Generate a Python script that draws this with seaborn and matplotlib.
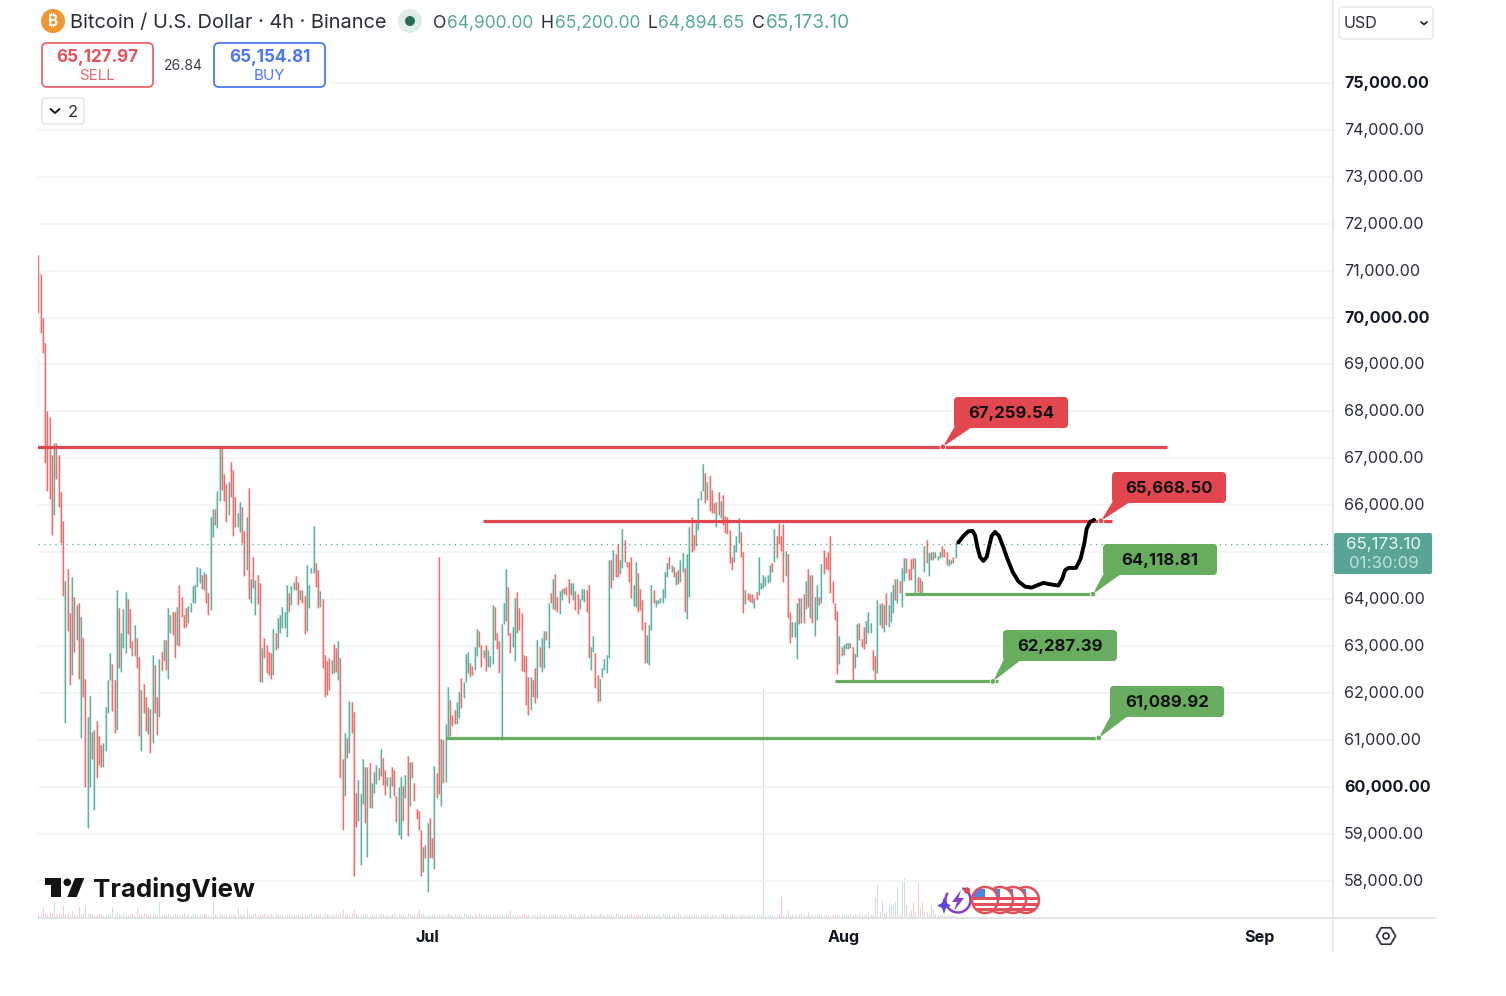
# BTC/USD 4h TradingView screenshot, candles + drawn levels
import numpy as np
import pandas as pd
import matplotlib
matplotlib.use("Agg")
import matplotlib.pyplot as plt
import matplotlib.transforms as mtrans
import seaborn as sns
from matplotlib.patches import Circle, FancyBboxPatch, Polygon, Rectangle, Arc

highs = [
    71326, 70921, 69984, 69452, 68003, 67876, 67066, 67322, 67322, 67066,
    66278, 65660, 64382, 64638, 63701, 64467, 64041, 63871, 63914, 63615,
    63168, 62295, 61485, 61933, 61166, 61209, 61400, 61081, 60889, 60932,
    61698, 62274, 62849, 62614, 62274, 64191, 63807, 63275, 63786, 64148,
    63999, 63786, 63104, 63445, 63168, 62763, 62061, 62188, 61911, 61698,
    61656, 62806, 62593, 61911, 62721, 62870, 63126, 63126, 63807, 63658,
    63722, 63722, 63828, 64297, 64041, 63658, 63807, 63850, 63914, 64276,
    64297, 64680, 64659, 64510, 64574, 64531, 64127, 65746, 65916, 65916,
    66299, 67237, 67258, 66661, 66448, 66491, 66917, 66747, 66172, 65831,
    66065, 65959, 65447, 65746, 66363, 64425, 64893, 64404, 64510, 64340,
    62955, 63168, 63019, 62870, 62849, 63360, 63275, 63594, 63658, 63828,
    63722, 64297, 64127, 64276, 64361, 64489, 64361, 64191, 64191, 64063,
    64723, 64297, 64659, 65554, 64766, 64617, 64169, 63999, 62806, 62678,
    62742, 62700, 63040, 62955, 63104, 62742, 60591, 61145, 61038, 61826,
    61805, 61592, 59867, 60144, 59845, 60591, 60420, 60420, 60506, 60080,
    60314, 60463, 60399, 60804, 60612, 60357, 60207, 60207, 60420, 60357,
    59803, 59994, 60207, 60016, 60250, 60655, 60527, 60527, 60080, 59526,
    59483, 59079, 58716, 58759, 59228, 59334, 58908, 60442, 60293, 64893,
    61017, 60996, 61336, 62124, 61848, 61528, 61635, 61805, 62018, 62316,
    62231, 62827, 62870, 62636, 62572, 62976, 63360, 63317, 63019, 62913,
    63019, 62913, 62785, 63871, 63828, 63275, 63104, 63466, 63914, 64638,
    64254, 63275, 63402, 64020, 64148, 63807, 63701, 62806, 62785, 62338,
    62338, 62274, 62529, 63126, 62976, 63168, 63317, 63317, 63914, 64127,
    64425, 64531, 64041, 64169, 64212, 64233, 64254, 64425, 64340, 64340,
    64169, 64105, 63999, 64212, 64212, 64191, 64297, 62976, 63211, 62849,
    62380, 62295, 62529, 62721, 62806, 64830, 64830, 65043, 64957, 65170,
    64830, 65490, 65256, 64787, 64787, 64893, 64297, 64787, 64553, 64212,
    63978, 63509, 63232, 63445, 64297, 64191, 63978, 63978, 64020, 64212,
    64574, 64766, 64893, 64723, 64680, 64574, 64617, 64830, 64979, 64659,
    64957, 65533, 65746, 65362, 65618, 66150, 66299, 66874, 66683, 66491,
    66619, 66321, 66044, 66065, 66278, 66086, 66214, 65767, 65746, 65469,
    64893, 65149, 65341, 65724, 65426, 65000, 64191, 64127, 64105, 64105,
    64020, 64148, 64893, 64340, 64510, 64467, 64510, 64723, 64766, 65490,
    65341, 65618, 65341, 65596, 65021, 64957, 63722, 63509, 63509, 63914,
    64020, 64020, 64105, 64382, 64638, 64510, 64510, 64041, 64297, 64041,
    64744, 65043, 64893, 65000, 65341, 64382, 63914, 63743, 63211, 62976,
    63019, 63062, 63062, 63062, 62976, 62827, 63466, 63488, 63147, 63402,
    63530, 63722, 63488, 62913, 62785, 63978, 63892, 63914, 63871, 64127,
    63871, 64148, 64297, 64425, 64425, 64382, 64659, 64872, 64872, 64638,
    64851, 64872, 64872, 64467, 64446, 64382, 65128, 65256, 64979, 65000,
    65000, 65000, 64915, 65000, 65128, 65064, 65000, 64850, 64830, 64893,
    65192,
]
lows = [
    70091, 69665, 69239, 66896, 66299, 66129, 65362, 65788, 66555, 65959,
    65192, 64063, 61358, 63317, 62167, 62380, 62870, 63126, 62295, 61038,
    61911, 59994, 59121, 59994, 60591, 59505, 60186, 60463, 60420, 60420,
    60761, 61571, 62274, 61613, 61145, 61209, 62529, 62444, 62955, 62849,
    63253, 62955, 62785, 62785, 62529, 61081, 60761, 61571, 61187, 61123,
    60719, 60932, 61571, 61102, 61485, 62465, 62678, 62487, 62295, 63275,
    63232, 62742, 63019, 62998, 63615, 63381, 63402, 63488, 63722, 63914,
    63914, 64254, 64340, 64212, 64191, 63914, 63658, 63765, 65320, 65575,
    65511, 66086, 66321, 66086, 65639, 65788, 66172, 65341, 65533, 65533,
    65426, 65192, 64489, 64617, 63999, 63914, 64233, 63658, 63892, 62231,
    62231, 62742, 62423, 62380, 62295, 62380, 62913, 62955, 63275, 63381,
    63381, 63189, 63722, 63871, 64191, 64191, 63871, 63978, 63914, 63253,
    63317, 63807, 64553, 64553, 64254, 63807, 63828, 62529, 61911, 61954,
    62061, 62401, 62423, 62444, 62274, 60186, 59079, 59803, 60612, 60719,
    61145, 58099, 59142, 59270, 58333, 59632, 59228, 58503, 59547, 59547,
    59867, 60058, 60144, 60229, 60037, 59824, 60016, 59760, 60016, 59803,
    59249, 58972, 58887, 59270, 59760, 58951, 59590, 60186, 59696, 59313,
    59079, 58099, 58184, 58482, 57758, 58482, 58482, 58248, 59760, 59845,
    59590, 60080, 60101, 61059, 61081, 61294, 61336, 61336, 61464, 61677,
    61890, 62231, 62423, 62338, 62380, 62487, 62785, 62976, 62550, 62742,
    62465, 62550, 62550, 62614, 63126, 62934, 62423, 61038, 63466, 63530,
    63232, 62849, 62976, 62678, 63275, 63339, 62465, 62444, 61741, 61528,
    61635, 61911, 61784, 61890, 62550, 62444, 62529, 63126, 62955, 63914,
    63786, 63765, 63722, 63679, 63978, 64105, 64084, 63914, 64084, 63978,
    63765, 63679, 63786, 63978, 63935, 63722, 62742, 62487, 62870, 62103,
    61805, 61826, 62338, 62487, 62423, 62742, 64233, 64404, 64467, 64467,
    64531, 64659, 64787, 64680, 64361, 64020, 63850, 63828, 63722, 63765,
    63339, 62636, 62636, 62593, 63339, 63914, 63828, 63892, 63914, 63914,
    64020, 64467, 64638, 64574, 64467, 64297, 64318, 64361, 64574, 63722,
    63573, 64041, 65000, 65043, 65128, 65469, 66108, 66299, 66044, 66108,
    65873, 65831, 65831, 65533, 65788, 65724, 65575, 65405, 65383, 64766,
    64617, 64787, 65000, 65192, 64893, 63701, 63892, 63978, 63935, 63914,
    63807, 63978, 64084, 64212, 64233, 64276, 64340, 64361, 64574, 64787,
    64872, 65170, 65021, 64361, 64489, 63594, 63062, 63189, 63189, 62721,
    63466, 63488, 63488, 63786, 63828, 63594, 63488, 63211, 63552, 63871,
    63914, 64531, 64638, 64617, 64127, 63914, 63552, 62402, 62614, 62785,
    62806, 62934, 62934, 62955, 62274, 62529, 62763, 63126, 62976, 62934,
    63041, 63275, 63275, 62487, 62274, 62423, 63445, 63381, 63296, 63445,
    63402, 63509, 63701, 63978, 63914, 64127, 63828, 64382, 64553, 64404,
    64404, 64638, 64127, 64148, 64127, 64127, 64574, 64766, 64489, 64830,
    64830, 64872, 64830, 64872, 64893, 64893, 64723, 64702, 64745, 64766,
    64872,
]
# R = down candle, G = up candle
dirs = (
    "RRRRRRRGRRRR" "GRRGRGRGRRGGRGRRRG" "GGGRRGRGGG" "RRRGRRGRRG" "RGRRGRGRGG"
    "RRGRRRRGGG" "GGGRGRRGGR" "GGRRRGRRRG" "GRRGRGRGRR" "GRRRRGRGGG"
    "GGRGGRRGRR" "GGGGRRGRRR" "RGRRGRRGRG" "RRRGGGRGRG" "GGRGRRGGRR"
    "RGGRGRGRRR" "RRGRGRRGRR" "GRGGRRRGGR" "GGGRRGGRRG" "RGGGRRRGGG"
    "RRGGRRRRRR" "GRRGRGGRGR" "GRRGGRRRGG" "RRGGGRRGGR" "RGGGGGRGRR"
    "GGRRRRGGRR" "RRGGGRGGGG" "GGRGRGRGGR" "GGRRGGGGRG" "RRRGRGRRRR"
    "RGGGRRGRRR" "GRGGGGGGRG" "RRRRGRRGGG" "RGRGRGRGGR" "GRRRRRRRGR"
    "GGGRRGGRRR" "GGGRRGGRGR" "GGGRGRGGRR" "RRGRRGGRGG" "RGGGRRRGGRG"
)
volumes = [
    4, 5, 10, 4, 3, 5, 4, 15, 3, 4, 3, 12, 4, 5, 3, 6, 4, 3, 11, 3, 4, 12, 3, 4, 3, 2, 3, 4, 3, 2,
    3, 2, 4, 10, 3, 5, 3, 2, 4, 3, 2, 3, 4, 2, 10, 3, 2, 4, 3, 2, 3, 4, 3, 2, 15, 3, 2, 3, 4, 3,
    2, 4, 3, 2, 3, 4, 2, 3, 2, 4, 3, 2, 3, 2, 4, 3, 2, 3, 16, 3, 2, 4, 3, 2, 3, 4, 2, 3, 3, 10,
    3, 2, 4, 9, 3, 2, 3, 4, 2, 3, 2, 4, 3, 2, 3, 2, 4, 3, 2, 3, 2, 3, 4, 2, 3, 2, 3, 2, 4, 3,
    2, 3, 4, 2, 3, 2, 3, 2, 4, 3, 2, 3, 2, 4, 3, 4, 8, 3, 2, 3, 4, 8, 3, 2, 3, 2, 4, 3, 2, 3,
    2, 3, 2, 4, 3, 2, 3, 2, 3, 4, 2, 3, 2, 3, 2, 4, 3, 2, 3, 4, 8, 3, 4, 2, 3, 2, 3, 4, 2, 3,
    2, 3, 2, 4, 3, 2, 3, 2, 3, 2, 4, 3, 2, 3, 2, 3, 2, 4, 3, 2, 3, 2, 3, 4, 2, 3, 2, 3, 2, 4,
    3, 7, 3, 2, 3, 2, 3, 4, 2, 3, 2, 3, 2, 3, 4, 2, 3, 2, 3, 2, 4, 3, 2, 3, 2, 3, 2, 4, 3, 2,
    3, 2, 3, 2, 4, 3, 2, 3, 2, 3, 2, 4, 3, 2, 3, 2, 3, 2, 4, 3, 2, 3, 2, 3, 2, 4, 3, 2, 3, 2,
    3, 2, 4, 3, 2, 3, 2, 3, 2, 4, 3, 2, 3, 2, 3, 2, 4, 3, 2, 3, 2, 3, 2, 4, 3, 2, 3, 2, 3, 4,
    2, 3, 2, 3, 2, 4, 3, 2, 3, 2, 3, 2, 2, 2, 3, 2, 2, 3, 2, 2, 3, 2, 2, 3, 229, 2, 2, 3, 2, 2,
    2, 3, 20, 2, 3, 7, 2, 3, 3, 2, 3, 4, 3, 2, 5, 2, 3, 2, 4, 2, 3, 2, 3, 2, 2, 3, 2, 3, 2, 4,
    2, 3, 2, 4, 2, 3, 2, 4, 3, 2, 3, 5, 3, 2, 20, 33, 5, 17, 4, 6, 10, 12, 13, 15, 29, 4, 36, 40, 13, 4,
    7, 15, 5, 35, 10, 15, 6, 5, 4, 13, 8, 3, 2, 2, 3, 2, 2, 2, 2, 2, 1,
]

# hand drawn black path (candle position, price)
path_pos = [411.2, 413.5, 415.7, 417.6, 418.7, 419.7, 420.9, 422.4, 423.9, 425.1, 426.1, 427.6, 429.4, 431, 433.1,
            435.5, 438, 441, 444, 446.5, 449.2, 452.2, 455.9, 457.7, 458.9, 460.4, 463.8, 465.9, 467.5, 468.6,
            470.1, 471.9]
path_price = [65206, 65348, 65447, 65454, 65362, 65114, 64900, 64815, 64900, 65149, 65348, 65433, 65348, 65149, 64865,
              64581, 64382, 64269, 64247, 64297, 64347, 64318, 64290, 64439, 64617, 64666, 64666, 64865, 65184, 65504,
              65646, 65689]

# drawn levels
level_labels = ["67,259.54", "65,668.50", "64,118.81", "62,287.39", "61,089.92"]
level_price = [67245, 65670, 64110, 62250, 61045]
level_start = [-1, 198.7, 387.3, 356, 182.2]
level_end = [504.5, 480, 472.3, 428.9, 474.5]
level_tip = [404.3, 475, 471.4, 426.7, 474]
level_dir = ["R", "R", "G", "G", "G"]

month_pos = [174, 360, 546]
month_labels = ["Jul", "Aug", "Sep"]
price_ticks = list(range(58000, 76000, 1000))
last_price = 65173.10

RED = "#ea5f5b"
TEAL = "#4ea698"
LVL_RED = "#e2474f"
LVL_GREEN = "#68ad5f"
TEXT = "#131722"
OHLC = "#58a898"
FONT = ["Inter", "DejaVu Sans"]

sns.set_style("white")
plt.rcParams["font.family"] = FONT

W, H = 1506, 996
fig = plt.figure(figsize=(W / 100, H / 100), dpi=100, facecolor="white")
ax = fig.add_axes([38 / W, 1 - 917 / H, (1333 - 38) / W, (917 - 35) / H])
ax.set_xlim(-0.22, 578.7)
ax.set_ylim(60000 - 130 / 46.95 * 1000, 60000 + 752 / 46.95 * 1000)

# volume first, on its own hidden scale
pos = np.arange(len(highs))
vol = ax.twinx()
vol.set_ylim(0, 882)
vol.axis("off")
vol_df = pd.DataFrame({
    "i": np.repeat(pos, 2),
    "v": np.ravel(np.column_stack([np.zeros(len(pos)), volumes])),
    "dir": np.repeat(list(dirs), 2),
})
sns.lineplot(data=vol_df, x="i", y="v", units="i", hue="dir", estimator=None, palette={"R": RED, "G": TEAL},
             lw=0.75, alpha=0.3, legend=False, ax=vol, solid_capstyle="butt")
vol.set_xlabel("")
vol.set_ylabel("")

candles = pd.DataFrame({
    "i": np.repeat(pos, 2),
    "price": np.ravel(np.column_stack([lows, highs])),
    "dir": np.repeat(list(dirs), 2),
})
# pale halo, then the bar itself
sns.lineplot(data=candles, x="i", y="price", units="i", hue="dir", estimator=None, palette={"R": RED, "G": TEAL},
             lw=1.7, alpha=0.3, legend=False, ax=ax, solid_capstyle="butt", zorder=3)
sns.lineplot(data=candles, x="i", y="price", units="i", hue="dir", estimator=None, palette={"R": RED, "G": TEAL},
             lw=0.9, alpha=0.85, legend=False, ax=ax, solid_capstyle="butt", zorder=4)

# levels
for p, a, b, d in zip(level_price, level_start, level_end, level_dir):
    lv = pd.DataFrame({"x": [a, b], "y": [p, p]})
    sns.lineplot(data=lv, x="x", y="y", color=LVL_RED if d == "R" else LVL_GREEN, lw=2.3, ax=ax, zorder=5,
                 estimator=None, solid_capstyle="butt")

# last price dotted line
ax.axhline(last_price, color=TEAL, lw=0.9, ls=(0, (1, 3.5)), zorder=2)

path = pd.DataFrame({"x": path_pos, "y": path_price})
sns.lineplot(data=path, x="x", y="y", sort=False, estimator=None, color="black", lw=2.8, ax=ax, zorder=6,
             solid_capstyle="round", solid_joinstyle="round")

ax.set_xlabel("")
ax.set_ylabel("")
ax.set_yticks(price_ticks)
# 65,000 sits under the last price tag, the reference shows none there
ax.set_yticklabels(["" if t == 65000 else f"{t:,.2f}" for t in price_ticks])
ax.yaxis.tick_right()
ax.set_xticks(month_pos)
ax.set_xticklabels(month_labels, fontsize=11.6, fontweight="bold", color=TEXT)
ax.tick_params(axis="x", length=0, pad=9)
ax.tick_params(axis="y", length=0, pad=8, labelsize=11.6, labelcolor="#2a2e39")
up_1px = mtrans.ScaledTranslation(0, 1 / 100, fig.dpi_scale_trans)
for t, lab in zip(price_ticks, ax.get_yticklabels()):
    lab.set_transform(lab.get_transform() + up_1px)
    if t in (60000, 70000, 75000):
        lab.set_fontweight("bold")
        lab.set_color(TEXT)
ax.grid(axis="y", color="#f3f3f4", lw=1.1)
ax.set_axisbelow(True)
for s in ax.spines.values():
    s.set_visible(False)
ax.patch.set_alpha(0)
vol.set_zorder(ax.get_zorder() - 1)
ax.set_zorder(vol.get_zorder() + 1)

# overlay in pixel units for the chart chrome
ov = fig.add_axes([0, 0, 1, 1], facecolor="none")
ov.set_xlim(0, W)
ov.set_ylim(H, 0)
ov.axis("off")
ov.set_zorder(10)


def to_px(i, p):
    x, y = ax.transData.transform((i, p))
    return x, H - y


def rbox(x0, y0, x1, y1, fc="white", ec="none", lw=1.0, r=5, z=3):
    ov.add_patch(FancyBboxPatch((x0 + r, y0 + r), x1 - x0 - 2 * r, y1 - y0 - 2 * r,
                                boxstyle=f"round,pad={r},rounding_size={r}", fc=fc, ec=ec, lw=lw, zorder=z))


def label(x, y, s, size=11.3, color=TEXT, weight="normal", ha="center", z=8):
    ov.text(x, y + 1.8, s, fontsize=size, color=color, fontweight=weight, ha=ha, va="center", zorder=z)


# blank out grid behind legend
ov.add_patch(Rectangle((30, 30), 302, 70, fc="white", ec="none", zorder=1))

# header row
ov.add_patch(Circle((53, 21), 12, fc="#f0962e", ec="none", zorder=3))
label(53, 20, "₿", size=11, color="white", weight="bold")
label(70, 21.5, "Bitcoin / U.S. Dollar · 4h · Binance", size=14.4, color="#2a2e39", ha="left")
ov.add_patch(Circle((410, 21), 12, fc="#deedea", ec="none", zorder=3))
ov.add_patch(Circle((410, 21), 5, fc="#2c6b58", ec="none", zorder=4))
for x, s in [(433, "O"), (541, "H"), (648, "L"), (752, "C")]:
    label(x, 21.5, s, size=12.7, color="#2a2e39", ha="left")
for x, s, fs in [(447, "64,900.00", 12.5), (555, "65,200.00", 12.5), (658, "64,894.65", 12.6), (766, "65,173.10", 13.7)]:
    label(x, 21.5, s, size=fs, color=OHLC, ha="left")

# sell / buy
rbox(42, 43, 153, 87, ec="#e8666c", lw=1.3)
label(97.5, 55.5, "65,127.97", size=12.3, color="#e8525a", weight="bold")
label(97.5, 74.5, "SELL", size=10.9, color="#e8666c")
rbox(214, 43, 325, 87, ec="#4f76f6", lw=1.3)
label(269.5, 55.5, "65,154.81", size=12.3, color="#4f76f6", weight="bold")
label(269.5, 74.5, "BUY", size=10.9, color="#4f76f6")
label(183.5, 64.5, "26.84", size=10, color="#3a3e49")
rbox(42, 98, 84, 124, ec="#e2e3e6", lw=1.0, r=3)
ov.plot([50.5, 55, 59.5], [109, 113, 109], color=TEXT, lw=1.4, zorder=8)
label(73, 110.5, "2", size=12, color="#2a2e39")

# right price pane
ov.plot([1333.5, 1333.5], [0, 952], color="#e4e5e8", lw=1.2, zorder=2)
ov.plot([38, 1435], [917.5, 917.5], color="#dfe0e3", lw=1.3, zorder=2)
rbox(1339, 7, 1433, 39, ec="#e6e7ea", lw=1.0, r=4)
label(1344, 22, "USD", size=11.6, color="#2a2e39", ha="left")
ov.plot([1421, 1424, 1427], [22, 24.5, 22], color=TEXT, lw=1.2, zorder=8)
rbox(1334, 533, 1432, 574, fc="#58a598", r=2)
label(1384, 543, "65,173.10", size=12.2, color="#eef7f5")
label(1384, 562, "01:30:09", size=12.2, color="#bfe0da")

# settings hexagon
hx = [1386 + 9.5 * np.cos(a) for a in np.radians([0, 60, 120, 180, 240, 300])]
hy = [936 + 9.5 * np.sin(a) for a in np.radians([0, 60, 120, 180, 240, 300])]
ov.add_patch(Polygon(list(zip(hx, hy)), closed=True, fc="none", ec="#2a2e39", lw=1.2))
ov.add_patch(Circle((1386, 936), 3, fc="none", ec="#2a2e39", lw=1.2))

# level callouts
box_x = [954, 1112, 1103, 1003, 1110]
box_y = [397, 472, 544, 630, 686]
for s, p, tip, d, x0, y0 in zip(level_labels, level_price, level_tip, level_dir, box_x, box_y):
    c = LVL_RED if d == "R" else LVL_GREEN
    x1, y1 = x0 + 114, y0 + 31
    rbox(x0, y0, x1, y1, fc=c, r=4, z=7)
    tx, ty = to_px(tip, p)
    ov.add_patch(Polygon([(x0 + 1, y1 - 2), (x0 + 18, y1 - 1), (tx, ty)], closed=True, fc=c, ec="none", zorder=7))
    ov.add_patch(Circle((tx, ty), 2.8, fc=c, ec="white", lw=0.6, zorder=8))
    label((x0 + x1) / 2, (y0 + y1) / 2 - 0.5, s, size=12.1, color="#111111", weight="bold", z=9)

# TradingView logo
ov.add_patch(Polygon([(44.7, 878), (60.7, 878), (60.7, 897), (50.7, 897), (50.7, 885), (44.7, 885)], closed=True,
                     fc="#131313", ec="none", zorder=8))
ov.add_patch(Circle((67.3, 882.3), 3.8, fc="#131313", ec="none", zorder=8))
ov.add_patch(Polygon([(75, 878), (84.3, 878), (76.7, 897), (67.3, 897)], closed=True, fc="#131313", ec="none", zorder=8))
label(93.5, 887.5, "TradingView", size=18.6, color="#131313", weight="bold", ha="left")

# news / flags badge
ov.add_patch(Arc((958, 900), 25, 25, theta1=-70, theta2=215, color="#8a3fc2", lw=1.8, zorder=8))
ov.add_patch(Polygon([(961, 890), (952, 902), (957, 902), (954, 911), (964, 898), (958.5, 898)], closed=True,
                     fc="#8a3fc2", ec="none", zorder=8))
ov.add_patch(Polygon([(944, 897), (946, 903), (951, 905.5), (946, 908), (944, 914), (942, 908), (937, 905.5), (942, 903)],
                     closed=True, fc="#5a47e0", ec="none", zorder=8))
ov.add_patch(Circle((967, 890.5), 3.2, fc="#e2474f", ec="none", zorder=9))
for n, cx in enumerate([1026, 1013, 1000, 985]):
    z = 10 + n
    ov.add_patch(Circle((cx, 900), 13, fc="white", ec="none", zorder=z))
    clip = Circle((cx, 900), 13, transform=ov.transData)
    for top in (897, 902.5, 908):
        bar = Rectangle((cx - 13, top), 26, 3.2, fc="#e2505a", ec="none", zorder=z + 0.1)
        ov.add_patch(bar)
        bar.set_clip_path(clip)
    canton = Rectangle((cx - 11, 889), 11, 8, fc="#4a84e6", ec="none", zorder=z + 0.2)
    ov.add_patch(canton)
    canton.set_clip_path(clip)
    ov.add_patch(Circle((cx, 900), 13, fc="none", ec="#e2505a", lw=1.8, zorder=z + 0.5))

fig.savefig("out.png", dpi=100)
